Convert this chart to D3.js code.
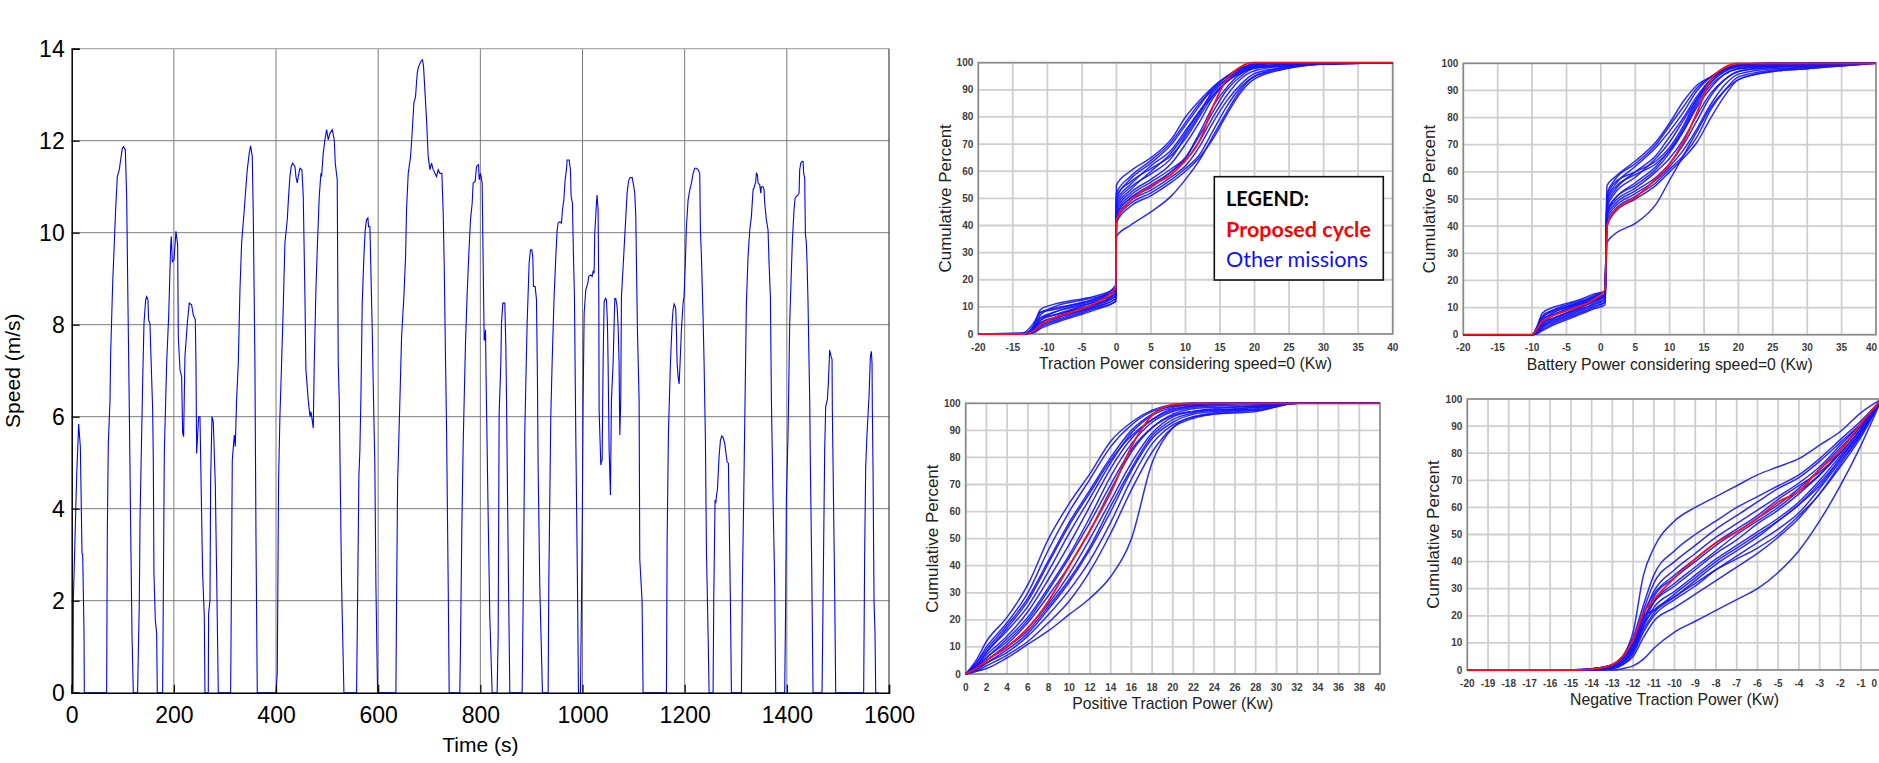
<!DOCTYPE html>
<html>
<head>
<meta charset="utf-8">
<script src="https://cdn.jsdelivr.net/npm/d3@7"></script>
<style>
  body { margin: 0; background: #fff; }
  svg { display: block; font-family: Arial, "Liberation Sans", sans-serif; }
</style>
</head>
<body>
<div id="chart"></div>
<script>
// ---------------------------------------
// 1. Data: speed trace (time s, speed m/s)
// ---------------------------------------
const timeTicks = [0, 200, 400, 600, 800, 1000, 1200, 1400, 1600];
const speedTicks = [0, 2, 4, 6, 8, 10, 12, 14];

const cycleTrace = [
  [0,0],[2.5,0],[3.2,2.0],[9.7,4.7],[13.6,5.84],[16.9,5.35],[20.2,3.03],[21.5,3.0],[24.1,1.36],[24.7,0],
  [68.4,0],[69.7,3.46],[71.7,5.42],[75,6.36],[76.3,7.38],[80.2,8.9],[83.4,9.77],[86,10.5],[89.3,11.22],[93.2,11.37],[95.8,11.58],[99.1,11.84],[101.7,11.87],[105,11.8],[107.6,10.79],[110.2,8.4],[112.8,6.15],[115.4,3.6],[118,1.29],[120.6,0],
  [129,0],[132.4,2.0],[133.7,3.75],[137,5.64],[139,6.8],[141.5,8.03],[144.8,8.54],[146.7,8.61],[149.3,8.54],[150.6,8.1],[153.2,8.03],[155.2,7.31],[158.5,6.15],[159.8,5.0],[161,2.6],[163.7,1.58],[166.3,1.29],[167.6,0],
  [178,0],[179.3,2.0],[181.3,5.2],[185.9,7.16],[189.8,8.18],[193.7,9.7],[195,9.92],[197,9.37],[200.2,9.41],[204.1,10.03],[207.4,9.74],[208.7,7.74],[212,7.02],[215.2,6.87],[217.2,5.64],[219.1,5.57],[221.7,7.31],[226.3,8.03],[230.2,8.47],[234.8,8.43],[238,8.21],[242,8.11],[243.3,7.16],[244.6,5.2],[248.5,6.0],[251.1,6.0],[256.3,2.6],[259.6,1.65],[260.9,0],
  [267.4,0],[268,1.72],[270.7,2.0],[272,4.62],[274.6,6.0],[277.2,5.89],[281.1,4.55],[283.7,2.6],[287,0],
  [311.1,0],[311.8,0.93],[314.4,5.06],[318.3,5.6],[320.2,5.35],[322.8,6.36],[326.1,7.16],[329.4,8.76],[332.6,9.77],[337.8,10.5],[341.1,11.0],[343.7,11.37],[347.6,11.73],[350.2,11.89],[353.5,11.66],[355.5,10.35],[358.7,7.16],[360.7,3.46],[363.3,0],
  [399.8,0],[402.4,0.42],[405,4.62],[407.6,6.0],[410.9,7.16],[414.2,8.4],[417.4,9.77],[422,10.28],[424.6,10.79],[427.2,11.22],[429.8,11.44],[432.4,11.51],[437,11.44],[439,11.22],[441.6,11.08],[443.5,11.22],[446.8,11.4],[450.7,11.37],[453.3,10.79],[456.6,8.61],[458.5,7.02],[463.1,6.36],[466.4,6.0],[468.3,6.11],[470.3,5.96],[472.9,5.75],[474.8,7.16],[478.1,8.76],[480.7,9.63],[484.6,10.79],[487.9,11.29],[489.2,11.22],[492.4,11.73],[495.7,12.02],[499,12.24],[502.2,12.02],[505.5,12.16],[510.1,12.24],[514,12.02],[516,11.51],[519.8,11.15],[521.8,7.16],[523.8,6.36],[528.3,2.38],[532.9,0],
  [557.7,0],[559,1.29],[562.2,4.7],[564.2,5.28],[566.2,6.44],[568.8,8.47],[572,9.48],[574.6,10.06],[577.2,10.28],[579.9,10.32],[581.2,10.13],[583.8,10.13],[585.7,9.19],[588.3,7.89],[590.9,6.36],[593.5,4.91],[595.5,2.38],[598.8,0],
  [634.7,0],[636,2.0],[638,4.55],[642.5,6.36],[645.8,7.74],[650.3,8.61],[653.6,9.48],[655.5,10.5],[658.8,11.29],[663.4,11.66],[666,12.09],[669.9,12.82],[673.1,12.96],[676.4,13.47],[679,13.61],[683.6,13.72],[686.8,13.76],[688.8,13.61],[691.4,13.1],[694.7,12.45],[697.9,11.66],[701.2,11.37],[704.5,11.51],[707.7,11.37],[714.2,11.22],[717.5,11.37],[720.8,11.29],[724.7,11.29],[727.3,10.42],[729.2,9.34],[731.9,7.16],[733.8,5.78],[737.1,2.3],[739,0],
  [759.8,0],[761.1,1.0],[763.8,3.61],[766.4,5.42],[770.9,7.6],[774.2,8.69],[778.1,9.7],[780.7,10.28],[784,10.64],[785.9,11.08],[789.8,11.11],[792.5,11.44],[796.4,11.48],[797.7,11.15],[800.3,11.29],[803.5,11.08],[805.5,9.34],[807.5,7.67],[808.8,7.67],[810.1,7.89],[811.4,6.73],[815.3,3.83],[818.5,1.65],[823.1,0],
  [832.9,0],[834.9,1.29],[836.8,6.07],[840.1,7.16],[841.4,8.03],[844,8.47],[847.9,8.47],[849.9,7.53],[851.2,6.44],[854.4,3.03],[857.7,0],
  [881.8,0],[883.8,2.0],[887,5.64],[889,6.73],[891.6,8.03],[895.5,9.34],[898.1,9.63],[900.7,9.63],[902.7,9.48],[904,8.83],[907.3,8.83],[909.9,8.54],[911.8,6.8],[913.1,4.91],[916.4,2.3],[921.6,0],
  [932.7,0],[934,2.38],[937.9,6.0],[940.5,7.16],[944.4,8.61],[947.7,9.48],[950.3,10.06],[952.3,10.21],[955.5,10.24],[958.8,10.21],[960.8,10.5],[963.4,10.71],[966,11.15],[968.6,11.37],[969.9,11.58],[973.8,11.58],[976.4,11.37],[977.7,10.79],[980.3,10.64],[982.3,9.48],[984.2,8.61],[986.8,5.64],[990.1,2.38],[992.1,0],
  [996,0],[998,2.0],[999.9,4.19],[1001.2,6.36],[1003.2,8.25],[1006.4,8.76],[1010.3,8.9],[1012.3,9.05],[1016.2,9.08],[1018.8,9.05],[1020.8,9.16],[1022.7,9.12],[1024,9.99],[1027.3,10.64],[1028.6,10.82],[1030.5,10.5],[1031.9,8.61],[1032.5,6.15],[1035.8,4.95],[1037.1,5.02],[1038.4,5.06],[1040.3,7.16],[1042.3,8.5],[1044.9,8.57],[1046.9,8.54],[1048.8,8.03],[1050.1,7.16],[1052.1,5.28],[1054.7,4.3],[1056.6,6.36],[1059.9,7.16],[1063.2,8.57],[1065.1,8.57],[1067.7,8.4],[1069.7,7.96],[1071.6,7.16],[1073,5.6],[1074.9,6.36],[1076.2,8.61],[1079.5,9.26],[1083.4,10.06],[1087.3,10.86],[1089.9,11.11],[1092.5,11.19],[1097.1,11.2],[1100.4,11.0],[1102.3,10.86],[1104.3,10.35],[1105.6,9.34],[1107.5,7.89],[1110.8,6.36],[1112.1,2.9],[1116.6,2.0],[1118.6,0],
  [1164.3,0],[1165.6,3.25],[1168.2,5.64],[1172.1,7.16],[1175.4,8.03],[1177.3,8.32],[1179.3,8.45],[1182.5,8.36],[1183.8,7.89],[1185.2,7.16],[1187.1,6.87],[1189.1,6.71],[1191,7.16],[1193.6,7.89],[1196.9,8.47],[1198.8,8.61],[1201.5,9.41],[1203.4,10.13],[1206.7,10.71],[1210,10.93],[1213.2,11.08],[1216.5,11.29],[1219.7,11.4],[1223,11.4],[1226.2,11.37],[1229.5,11.29],[1230.8,10.06],[1232.8,9.48],[1236,8.18],[1238,7.16],[1240.6,5.49],[1242.6,3.1],[1245.8,1.29],[1247.8,0],
  [1255.6,0],[1256.9,2.0],[1259.5,4.19],[1260.8,4.12],[1262.8,4.33],[1264.1,4.41],[1267.3,5.13],[1270,5.49],[1272.6,5.58],[1275.2,5.55],[1278.4,5.42],[1281.7,5.13],[1283,5.02],[1285.6,4.99],[1286.9,3.97],[1289.5,2.0],[1291.5,0],
  [1311.1,0],[1313,2.38],[1315.6,4.26],[1318.2,6.36],[1320.8,8.47],[1324.1,9.48],[1327.4,10.06],[1330.6,10.35],[1333.9,10.93],[1336.5,11.0],[1339.1,11.11],[1340.4,11.29],[1342.4,11.26],[1343.7,11.08],[1347,11.04],[1348.9,10.86],[1350.2,11.0],[1353.5,11.0],[1355.4,10.93],[1356.7,10.64],[1360,10.28],[1363.2,10.06],[1365.2,9.34],[1367.8,8.61],[1369.8,6.36],[1373,4.19],[1375,3.1],[1376.3,2.3],[1378.2,0],
  [1395.8,0],[1397.8,2.0],[1399.1,4.19],[1402.4,5.64],[1405.6,8.03],[1408.9,9.19],[1410.9,9.84],[1414.1,10.5],[1416.1,10.75],[1418.7,10.79],[1422,10.82],[1423.9,10.86],[1425.2,11.37],[1427.2,11.51],[1429.8,11.55],[1431.7,11.55],[1433,11.29],[1435,11.19],[1436.3,9.99],[1438.2,9.77],[1439.6,9.34],[1441.5,8.47],[1443.5,7.16],[1444.8,6.36],[1446.1,4.91],[1448.7,2.74],[1451.3,0],
  [1468.9,0],[1470.9,2.0],[1474.1,5.28],[1476.1,6.22],[1479.3,6.37],[1481.3,6.73],[1483.9,7.45],[1486.5,7.31],[1488.5,7.24],[1489.1,6.15],[1493.7,2.16],[1495.7,0],
  [1550.4,0],[1552.4,3.1],[1554.4,4.91],[1557,5.64],[1560.9,6.44],[1563.5,7.31],[1565.4,7.42],[1566.8,7.16],[1567.4,6.15],[1568.7,4.91],[1570.7,2.0],[1572.6,1.29],[1574,0],[1580,0]
];

// ---------------------------------------
// 2. Data: cumulative distributions (power kW -> percent)
// ---------------------------------------
const pctTicks = [0, 10, 20, 30, 40, 50, 60, 70, 80, 90, 100];
const ticksAB = [-20, -15, -10, -5, 0, 5, 10, 15, 20, 25, 30, 35, 40];
const ticksC = [0, 2, 4, 6, 8, 10, 12, 14, 16, 18, 20, 22, 24, 26, 28, 30, 32, 34, 36, 38, 40];
const ticksD = [-20, -19, -18, -17, -16, -15, -14, -13, -12, -11, -10, -9, -8, -7, -6, -5, -4, -3, -2, -1, 0];

// (A) traction power, speed=0 included
const powerA = [-20, -13.5, -12, -11, -9, -6, -3, -0.1, 0, 2, 5, 8, 10, 12, 14, 16, 18, 20, 25, 30, 40];
const proposedA = [0,0,1,3.5,6,8.5,11.5,17, 42,49,54.5,59,64,71,84,94,98.5,100, 100,100,100];
const missionsA = [
  [0,0,3,9,11,12.5,14,17, 55,60,65,72,80,86,91,95,98,99.5, 100,100,100],
  [0,0,2,7,10,12,13.5,16, 52,58,64,71,78,85,90,94,97.5,99, 100,100,100],
  [0,0.5,4,8,9.5,11,13,18, 50,57,63,70,77,84,91,95,98,99.5, 100,100,100],
  [0,0,1.5,5,8,10,12,15, 49,55,62,68,75,82,89,94,97,98.5, 99.5,100,100],
  [0,0,2,6,7,9,11,14, 47,53,60,67,74,82,88,93,96.5,98, 99,100,100],
  [0,0,1,4,6,8,10,13, 46,52,57,63,70,78,87,93,96,98, 99,99.5,100],
  [0,0,2.5,6,8,10.5,12.5,16, 45,51,56,61,65,73,82,90,95,98, 99.5,100,100],
  [0,0,1,3,5,7.5,10,13, 44,50,54,60,64,71,80,88,94,97, 99,100,100],
  [0,0,1.5,4,6,9,11,15, 43,49,53,58,62,69,78,86,92,96, 98.5,99.5,100],
  [0,0,0.5,2.5,4.5,7,9.5,12, 42,48,52,57,61,66,75,84,91,95, 98.5,99.5,100],
  [0,0,1,3.5,5.5,8,10.5,14, 41,47,51,56,60,65,72,81,89,94, 98,99.5,100],
  [0,0,0.5,2,4,6.5,9,12, 36,40,45,51,57,64,73,82,90,95, 98,99.5,100],
  [0,0,2,5,7,9.5,12,17, 51,56,61,66,72,80,88,93,97,99, 100,100,100],
  [0,0,3,8,9,11,13,16, 48,54,59,65,73,81,90,95,98,99, 100,100,100],
  [0,0,1,4,6,8.5,11,15, 44,50,55,60,65,74,84,91,96,98.5, 99.5,100,100]
];

// (B) battery power, speed=0 included
const powerB = [-20, -10, -9.3, -8.5, -7, -5, -3, -1, 0.6, 0.9, 2, 5, 8, 10, 12, 14, 16, 18, 20, 25, 30, 37, 40];
const proposedB = [0,0,2,5,7,8.8,10.5,13,16.5, 40,45.5,50.5,57.5,63,71,82,94,98.5,100, 100,100,100,100];
const missionsB = [
  [0,0,3,8,10,11.5,13,15,16, 55,58,64,71,78,86,92,95,97.5,99, 100,100,100,100],
  [0,0,2,6,9,11,12.5,14.5,16, 52,57,63,70,77,84,91,95,98,99.5, 100,100,100,100],
  [0,0,1,4,7,9.5,11.5,14,16, 50,55,62,69,75,82,90,95,98,99.5, 100,100,100,100],
  [0,0,2.5,7,9,10.5,12,13.5,15, 48,53,60,66,73,80,88,94,97.5,99, 99.5,100,100,100],
  [0,0,1.5,5,7,9,11,13,14, 47,52,58,65,71,79,87,93,97,98.5, 99,99.5,100,100],
  [0,0,0.5,3,5,7,9,11.5,13, 46,50,56,62,68,75,84,91,96,98, 99,99.5,100,100],
  [0,0,1,4.5,6,8,10,12,14, 45,49,54,60,65,72,81,89,94,97, 98.5,99,100,100],
  [0,0,0.5,2,4,6,8,10,12, 44,48,53,58,63,70,79,88,94,97, 98.5,99,100,100],
  [0,0,1,3,5.5,7.5,9.5,11,13, 43,47,52,57,62,68,76,85,92,96, 98,98.5,100,100],
  [0,0,2,5.5,7.5,9,10.5,12.5,14.5, 42,46,51,56,61,66,73,83,90,95, 97.5,98.5,99.5,100],
  [0,0,0.5,2.5,4.5,6.5,8.5,10.5,12, 40,45,50,55,60,65,71,80,88,94, 97,98,99.5,100],
  [0,0,0.3,1.5,3.5,5.5,7.5,9.5,11, 34,37,41,48,57,66,75,84,90,94, 97,98,99.5,100],
  [0,0,1.5,5,8,10,12,14,16, 51,56,60,64,69,77,87,94,97.5,99, 100,100,100,100],
  [0,0,2,6.5,8.5,10,11.5,13,15, 49,54,59,63,68,76,86,93,97,99, 99.5,100,100,100],
  [0,0,1,3.5,6,8,10,12.5,14, 45,50,55,61,67,75,85,92,96,98, 99,99.5,100,100]
];

// (C) positive traction power
const powerC = [0, 1, 2, 4, 6, 8, 10, 12, 14, 16, 18, 20, 22, 24, 28, 32, 40];
const proposedC = [0,2,5,10,17,27,40,53,67,84,95.5,99.5,100,100,100,100,100];
const missionsC = [
  [0,5,12,21,33,50,63,74,86,93,97.5,99.5,100,100,100,100,100],
  [0,4,10,19,30,46,60,72,84,92,97,99,100,100,100,100,100],
  [0,4,9,18,28,42,56,68,80,90,96,99,99.5,100,100,100,100],
  [0,3,8,16,25,38,52,65,78,89,95.5,98.5,99.5,100,100,100,100],
  [0,3,7,14,23,35,48,62,76,87,94,98,99,99.5,100,100,100],
  [0,2.5,6,13,21,32,44,58,73,85,93,97,98.5,99,99.5,100,100],
  [0,2,5,11,19,29,40,53,68,82,91,96,98,98.5,99,100,100],
  [0,2,5,10,17,26,37,50,64,78,89,95,97,98,99,100,100],
  [0,1.5,4,9,15,24,34,46,60,75,87,93,96,97,98.5,100,100],
  [0,1.5,4,8,14,22,31,42,56,72,85,92,95,96.5,98,100,100],
  [0,1,3,7,12,19,27,38,52,68,82,91,94.5,96,97.5,100,100],
  [0,1,2,6,11,16,22,28,36,50,78,91,95,96,97,100,100],
  [0,3,8,17,27,41,55,67,79,88,94,97.5,99,99.5,100,100,100],
  [0,2.5,6,12,20,31,43,56,70,83,91,95.5,97,97.5,97.5,100,100],
  [0,2,5,10,16,25,35,47,62,76,88,94,96.5,97.5,98.5,100,100]
];

// (D) negative traction power
const powerD = [-20, -15, -14.5, -14, -13, -12.5, -12, -11.5, -11, -10, -9, -8, -7, -6, -5, -4, -3, -2, -1, 0];
const proposedD = [0,0,0,0.3,2,5,11,21,26,34,41,47,51,56,62,66,74,81,91,100];
const missionsD = [
  [0,0,0,0.5,2,5,14,35,45,55,60,64,68,72,75,78,83,88,95,100],
  [0,0,0,0,0,0.5,1.5,4,8,14,18,22,26,30,36,44,55,68,83,100],
  [0,0,0,0.3,2,5,12,24,35,44,50,55,60,64,68,72,78,85,92,100],
  [0,0,0.2,0.5,2,4,10,22,32,40,46,52,57,62,67,71,77,84,91,100],
  [0,0,0,0.3,1.5,4,9,20,29,37,43,49,54,59,64,69,75,83,91,100],
  [0,0,0,0,1,3,8,18,27,34,40,46,51,56,61,67,74,82,90,100],
  [0,0,0,0.3,1.5,4,9,19,25,31,37,43,48,54,59,65,72,80,89,100],
  [0,0,0,0,1,3,7,16,23,29,35,41,46,51,56,62,70,79,88,100],
  [0,0,0.2,0.5,2,5,10,20,22,27,33,39,44,49,55,61,69,78,88,100],
  [0,0,0,0,0.5,2,6,14,20,26,31,37,42,47,52,58,67,77,87,100],
  [0,0,0,0.3,1,3,8,17,22,27,32,37,41,45,50,57,65,76,87,100],
  [0,0,0,0,0.5,2,5,12,18,23,28,33,38,43,49,56,65,75,86,100],
  [0,0,0,0.3,1.5,4,10,21,28,35,41,47,52,57,63,68,73,80,89,100],
  [0,0,0,0,1,2.5,7,15,21,28,34,40,45,50,55,61,68,78,88,100],
  [0,0,0,0.2,1,3,8,17,25,32,38,44,50,55,60,66,72,81,90,100]
];

// ---------------------------------------
// 3. SVG
// ---------------------------------------
const width = 1879;
const height = 763;

const svg = d3.select("#chart")
  .append("svg")
  .attr("width", width)
  .attr("height", height);

svg.append("rect").attr("width", width).attr("height", height).attr("fill", "#fff");

// ---------------------------------------
// 4. Left: speed vs time
// ---------------------------------------
const sx = d3.scaleLinear().domain([0, 1600]).range([71.7, 889]);
const sy = d3.scaleLinear().domain([0, 14]).range([692.7, 48.7]);

const gSpeed = svg.append("g");

gSpeed.selectAll(".vgrid")
  .data(timeTicks.slice(1, -1))
  .enter().append("line")
  .attr("x1", d => sx(d)).attr("x2", d => sx(d))
  .attr("y1", sy(0)).attr("y2", sy(14))
  .attr("stroke", "#7a7a7a").attr("stroke-width", 1);

gSpeed.selectAll(".hgrid")
  .data(speedTicks.slice(1, -1))
  .enter().append("line")
  .attr("x1", sx(0)).attr("x2", sx(1600))
  .attr("y1", d => sy(d)).attr("y2", d => sy(d))
  .attr("stroke", "#7a7a7a").attr("stroke-width", 1);

// top and right border
gSpeed.append("line")
  .attr("x1", sx(0)).attr("x2", sx(1600)).attr("y1", sy(14)).attr("y2", sy(14))
  .attr("stroke", "#aaa").attr("stroke-width", 1.2);
gSpeed.append("line")
  .attr("x1", sx(1600)).attr("x2", sx(1600)).attr("y1", sy(0)).attr("y2", sy(14))
  .attr("stroke", "#444").attr("stroke-width", 1.2);

// the trace
const speedLine = d3.line()
  .x(d => sx(d[0]))
  .y(d => sy(d[1]));

gSpeed.append("path")
  .datum(cycleTrace)
  .attr("d", speedLine)
  .attr("fill", "none")
  .attr("stroke", "#0000ff")
  .attr("stroke-width", 1.1);

// axes with inward ticks
const axX = gSpeed.append("g")
  .attr("transform", `translate(0,${sy(0)})`)
  .call(d3.axisBottom(sx).tickValues(timeTicks).tickSize(-8).tickPadding(14).tickFormat(d3.format("d")));
const axY = gSpeed.append("g")
  .attr("transform", `translate(${sx(0)},0)`)
  .call(d3.axisLeft(sy).tickValues(speedTicks).tickSize(-8).tickPadding(7).tickFormat(d3.format("d")));

[axX, axY].forEach(ax => {
  ax.select(".domain").attr("stroke", "#000").attr("stroke-width", 1.5);
  ax.selectAll(".tick line").attr("stroke", "#000").attr("stroke-width", 1.2);
  ax.selectAll(".tick text")
    .attr("fill", "#000")
    .style("font-family", "Arial, 'Liberation Sans', sans-serif")
    .style("font-size", "23px");
});

gSpeed.append("text")
  .attr("x", (sx(0) + sx(1600)) / 2)
  .attr("y", 752)
  .attr("text-anchor", "middle")
  .style("font-size", "21px")
  .text("Time (s)");

gSpeed.append("text")
  .attr("transform", `translate(20,${(sy(0) + sy(14)) / 2}) rotate(-90)`)
  .attr("text-anchor", "middle")
  .style("font-size", "21px")
  .text("Speed (m/s)");

// ---------------------------------------
// 5. Right: four cumulative plots
// ---------------------------------------
const panels = [
  { left: 978.3, right: 1392.7, top: 62.7, bottom: 334, domain: [-20, 40], ticks: ticksAB,
    grid: powerA, red: proposedA, blue: missionsA,
    title: "Traction Power considering speed=0 (Kw)", titleW: 293, yTitleX: 951 },
  { left: 1463.3, right: 1876, top: 63.3, bottom: 334.7, domain: [-20, 40], ticks: ticksAB,
    grid: powerB, red: proposedB, blue: missionsB,
    title: "Battery Power considering speed=0 (Kw)", titleW: 286, yTitleX: 1435.3 },
  { left: 965.7, right: 1380, top: 403.3, bottom: 674, domain: [0, 40], ticks: ticksC,
    grid: powerC, red: proposedC, blue: missionsC,
    title: "Positive Traction Power (Kw)", titleW: 201, yTitleX: 937.7 },
  { left: 1467.3, right: 1881.8, top: 399, bottom: 670, domain: [-20, 0], ticks: ticksD,
    grid: powerD, red: proposedD, blue: missionsD,
    title: "Negative Traction Power (Kw)", titleW: 209, yTitleX: 1438.7 }
];

function drawPanel(p) {
  const g = svg.append("g");
  const x = d3.scaleLinear().domain(p.domain).range([p.left, p.right]);
  const y = d3.scaleLinear().domain([0, 100]).range([p.bottom, p.top]);

  // grid
  g.selectAll(".vg").data(p.ticks).enter().append("line")
    .attr("x1", d => x(d)).attr("x2", d => x(d))
    .attr("y1", p.top).attr("y2", p.bottom)
    .attr("stroke", "#cfcfcf").attr("stroke-width", 1.8);
  g.selectAll(".hg").data(pctTicks).enter().append("line")
    .attr("x1", p.left).attr("x2", p.right)
    .attr("y1", d => y(d)).attr("y2", d => y(d))
    .attr("stroke", "#cfcfcf").attr("stroke-width", 1.8);

  // frame
  g.append("rect")
    .attr("x", p.left).attr("y", p.top)
    .attr("width", p.right - p.left).attr("height", p.bottom - p.top)
    .attr("fill", "none").attr("stroke", "#8a8a8a").attr("stroke-width", 1.6);

  // tick labels
  g.selectAll(".yl").data(pctTicks).enter().append("text")
    .attr("x", p.left - 5).attr("y", d => y(d)).attr("dy", "0.35em")
    .attr("text-anchor", "end")
    .style("font-size", "10px").style("font-weight", "bold").attr("fill", "#3c3c3c")
    .text(d => d);
  // labels that would run past the page edge are right-aligned to it instead
  const overflow = d => x(d) + 6 > width;
  g.selectAll(".xl").data(p.ticks).enter().append("text")
    .attr("x", d => overflow(d) ? width - 2 : x(d))
    .attr("y", p.bottom + 16.5)
    .attr("text-anchor", d => overflow(d) ? "end" : "middle")
    .style("font-size", "10px").style("font-weight", "bold").attr("fill", "#3c3c3c")
    .text(d => d);

  // curves
  const line = d3.line()
    .x((d, i) => x(p.grid[i]))
    .y(d => y(d))
    .curve(d3.curveMonotoneX);

  g.selectAll(".mission").data(p.blue).enter().append("path")
    .attr("d", line)
    .attr("fill", "none")
    .attr("stroke", "#1414ff")
    .attr("stroke-width", 1.5)
    .attr("stroke-opacity", 0.9);

  g.append("path")
    .datum(p.red)
    .attr("d", line)
    .attr("fill", "none")
    .attr("stroke", "#ff1010")
    .attr("stroke-width", 1.8);

  // titles
  g.append("text")
    .attr("x", (p.left + p.right) / 2).attr("y", p.bottom + 35)
    .attr("text-anchor", "middle")
    .attr("textLength", p.titleW).attr("lengthAdjust", "spacingAndGlyphs")
    .style("font-size", "17px").attr("fill", "#222")
    .text(p.title);
  g.append("text")
    .attr("transform", `translate(${p.yTitleX},${(p.top + p.bottom) / 2}) rotate(-90)`)
    .attr("text-anchor", "middle")
    .style("font-size", "17px").attr("fill", "#222")
    .text("Cumulative Percent");
}

panels.forEach(drawPanel);

// ---------------------------------------
// 6. Legend inside the first panel
// ---------------------------------------
const legend = svg.append("g").style("font-family", "Lato, 'Open Sans', sans-serif");
legend.append("rect")
  .attr("x", 1214.3).attr("y", 176.7)
  .attr("width", 169).attr("height", 103.3)
  .attr("fill", "#fff").attr("stroke", "#111").attr("stroke-width", 1.6);
legend.append("text")
  .attr("x", 1226).attr("y", 205.5)
  .attr("textLength", 83).attr("lengthAdjust", "spacingAndGlyphs")
  .style("font-size", "21px").style("font-weight", "bold").attr("fill", "#000")
  .text("LEGEND:");
legend.append("text")
  .attr("x", 1226).attr("y", 236.7)
  .attr("textLength", 145).attr("lengthAdjust", "spacingAndGlyphs")
  .style("font-size", "21px").style("font-weight", "bold").attr("fill", "#ff0000")
  .text("Proposed cycle");
legend.append("text")
  .attr("x", 1226).attr("y", 266.7)
  .attr("textLength", 142).attr("lengthAdjust", "spacingAndGlyphs")
  .style("font-size", "21px").attr("fill", "#1010ff")
  .text("Other missions");
</script>
</body>
</html>
